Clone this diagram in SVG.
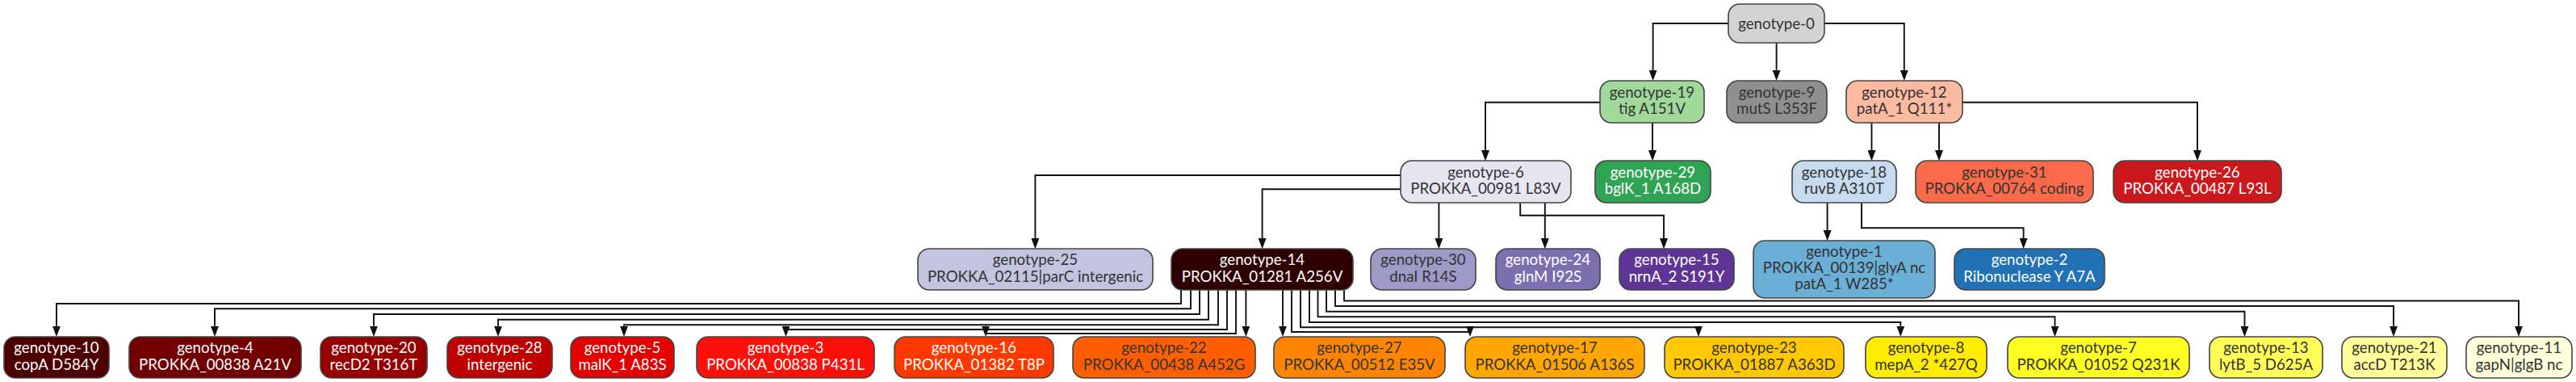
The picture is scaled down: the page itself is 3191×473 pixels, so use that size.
<svg xmlns="http://www.w3.org/2000/svg" width="3191" height="473" viewBox="0 0 3191 473">
<style>
.n rect{stroke:#444;stroke-width:1.6}
text{font-family:Lato,"Noto Sans","Liberation Sans",sans-serif;font-size:18.67px;text-anchor:middle}
.d text{fill:#333}
.w text{fill:#fff}
.e path{fill:none;stroke:#111;stroke-width:1.9}
</style>
<defs>
<marker id="ah" viewBox="0 0 13.3 10" refX="0" refY="5" markerWidth="13.3" markerHeight="10" markerUnits="userSpaceOnUse" orient="90">
<path d="M0,0 L13.3,5 L0,10 z" fill="#111"/>
</marker>
</defs>
<g class="e" marker-end="url(#ah)">
<path d="M2141,29 H2047.6 V86.7" marker-end="url(#ah)"/>
<path d="M2200.6,53 V86.7" marker-end="url(#ah)"/>
<path d="M2260,29 H2358.8 V86.7" marker-end="url(#ah)"/>
<path d="M1982,126.7 H1840 V186" marker-end="url(#ah)"/>
<path d="M2047,152 V186" marker-end="url(#ah)"/>
<path d="M2318.5,152 V186" marker-end="url(#ah)"/>
<path d="M2402,152 V186" marker-end="url(#ah)"/>
<path d="M2431,126.7 H2722 V186" marker-end="url(#ah)"/>
<path d="M1735,217 H1282.4 V295" marker-end="url(#ah)"/>
<path d="M1735,234.3 H1563.6 V295" marker-end="url(#ah)"/>
<path d="M1782.4,250.7 V295" marker-end="url(#ah)"/>
<path d="M1913.8,250.7 V295" marker-end="url(#ah)"/>
<path d="M1883.2,250.7 V266.7 H2061 V295" marker-end="url(#ah)"/>
<path d="M2263.6,250.7 V285" marker-end="url(#ah)"/>
<path d="M2306,250.7 V282.3 H2506.6 V295" marker-end="url(#ah)"/>
<path d="M1463,359.3 V376 H70 V403.7" marker-end="url(#ah)"/>
<path d="M1475,359.3 V382.3 H266 V403.7" marker-end="url(#ah)"/>
<path d="M1486,359.3 V389 H463 V403.7" marker-end="url(#ah)"/>
<path d="M1497,359.3 V395.7 H617 V403.7" marker-end="url(#ah)"/>
<path d="M1509,359.3 V402.3 H773 V403.7" marker-end="url(#ah)"/>
<path d="M1520,359.3 V408 H973.5 V403.7" marker-end="url(#ah)"/>
<path d="M1531,359.3 V413 H1221 V403.7" marker-end="url(#ah)"/>
<path d="M1543.4,359.3 V403.7" marker-end="url(#ah)"/>
<path d="M1589,359.3 V403.7" marker-end="url(#ah)"/>
<path d="M1600,359.3 V411 H1821 V403.7" marker-end="url(#ah)"/>
<path d="M1611,359.3 V405.3 H2104 V403.7" marker-end="url(#ah)"/>
<path d="M1622,359.3 V399 H2354.3 V403.7" marker-end="url(#ah)"/>
<path d="M1632.5,359.3 V392.3 H2545.5 V403.7" marker-end="url(#ah)"/>
<path d="M1643,359.3 V385.7 H2780.5 V403.7" marker-end="url(#ah)"/>
<path d="M1654,359.3 V379 H2965 V403.7" marker-end="url(#ah)"/>
<path d="M1665,359.3 V372.5 H3120 V403.7" marker-end="url(#ah)"/>
</g>

<g id="genotype-0" class="n d"><rect x="2141" y="5" width="119" height="48" rx="14" fill="#d3d3d3"/><text x="2200.5" y="35.5">genotype-0</text></g>

<g id="genotype-19" class="n d"><rect x="1982" y="100" width="129" height="52" rx="14" fill="#a1d99b"/><text x="2046.5" y="120.5">genotype-19</text><text x="2046.5" y="141">tig A151V</text></g>
<g id="genotype-9" class="n d"><rect x="2139" y="100" width="124" height="52" rx="14" fill="#8f8f8f"/><text x="2201" y="120.5">genotype-9</text><text x="2201" y="141">mutS L353F</text></g>
<g id="genotype-12" class="n d"><rect x="2287" y="100" width="144" height="52" rx="14" fill="#fcbba1"/><text x="2359" y="120.5">genotype-12</text><text x="2359" y="141">patA_1 Q111*</text></g>

<g id="genotype-6" class="n d"><rect x="1735" y="199" width="211" height="52" rx="14" fill="#e6e5f1"/><text x="1840.5" y="219.5">genotype-6</text><text x="1840.5" y="240">PROKKA_00981 L83V</text></g>
<g id="genotype-29" class="n w"><rect x="1976" y="199" width="143" height="52" rx="14" fill="#31a354"/><text x="2047.5" y="219.5">genotype-29</text><text x="2047.5" y="240">bglK_1 A168D</text></g>
<g id="genotype-18" class="n d"><rect x="2220" y="199" width="129" height="52" rx="14" fill="#c6dbef"/><text x="2284.5" y="219.5">genotype-18</text><text x="2284.5" y="240">ruvB A310T</text></g>
<g id="genotype-31" class="n d"><rect x="2373" y="199" width="220" height="52" rx="14" fill="#fb6a4a"/><text x="2483" y="219.5">genotype-31</text><text x="2483" y="240">PROKKA_00764 coding</text></g>
<g id="genotype-26" class="n w"><rect x="2618" y="199" width="208" height="52" rx="14" fill="#cb181d"/><text x="2722" y="219.5">genotype-26</text><text x="2722" y="240">PROKKA_00487 L93L</text></g>

<g id="genotype-25" class="n d"><rect x="1137" y="308" width="291" height="51" rx="14" fill="#c3c4df"/><text x="1282.5" y="328.3">genotype-25</text><text x="1282.5" y="348.8">PROKKA_02115|parC intergenic</text></g>
<g id="genotype-14" class="n w"><rect x="1451" y="308" width="225" height="51" rx="14" fill="#2e0000"/><text x="1563.5" y="328.3">genotype-14</text><text x="1563.5" y="348.8">PROKKA_01281 A256V</text></g>
<g id="genotype-30" class="n d"><rect x="1698" y="308" width="130" height="51" rx="14" fill="#9e9ac8"/><text x="1763" y="328.3">genotype-30</text><text x="1763" y="348.8">dnaI R14S</text></g>
<g id="genotype-24" class="n w"><rect x="1853" y="308" width="129" height="51" rx="14" fill="#7b6fb0"/><text x="1917.5" y="328.3">genotype-24</text><text x="1917.5" y="348.8">glnM I92S</text></g>
<g id="genotype-15" class="n w"><rect x="2006" y="308" width="142" height="51" rx="14" fill="#5e3596"/><text x="2077" y="328.3">genotype-15</text><text x="2077" y="348.8">nrnA_2 S191Y</text></g>
<g id="genotype-1" class="n d"><rect x="2172" y="298" width="225" height="71" rx="14" fill="#6baed6"/><text x="2284.5" y="318">genotype-1</text><text x="2284.5" y="338">PROKKA_00139|glyA nc</text><text x="2284.5" y="357.5">patA_1 W285*</text></g>
<g id="genotype-2" class="n w"><rect x="2421" y="308" width="186" height="51" rx="14" fill="#2171b5"/><text x="2514" y="328.3">genotype-2</text><text x="2514" y="348.8">Ribonuclease Y A7A</text></g>

<g id="genotype-10" class="n w"><rect x="5" y="417" width="130" height="51" rx="14" fill="#4e0000"/><text x="70" y="437">genotype-10</text><text x="70" y="457.5">copA D584Y</text></g>
<g id="genotype-4" class="n w"><rect x="160" y="417" width="213" height="51" rx="14" fill="#720000"/><text x="266.5" y="437">genotype-4</text><text x="266.5" y="457.5">PROKKA_00838 A21V</text></g>
<g id="genotype-20" class="n w"><rect x="397" y="417" width="132" height="51" rx="14" fill="#980000"/><text x="463" y="437">genotype-20</text><text x="463" y="457.5">recD2 T316T</text></g>
<g id="genotype-28" class="n w"><rect x="554" y="417" width="130" height="51" rx="14" fill="#be0000"/><text x="619" y="437">genotype-28</text><text x="619" y="457.5">intergenic</text></g>
<g id="genotype-5" class="n w"><rect x="707" y="417" width="128" height="51" rx="14" fill="#e40000"/><text x="771" y="437">genotype-5</text><text x="771" y="457.5">malK_1 A83S</text></g>
<g id="genotype-3" class="n w"><rect x="863" y="417" width="220" height="51" rx="14" fill="#ff0f0a"/><text x="973" y="437">genotype-3</text><text x="973" y="457.5">PROKKA_00838 P431L</text></g>
<g id="genotype-16" class="n w"><rect x="1108" y="417" width="197" height="51" rx="14" fill="#ff3800"/><text x="1206.5" y="437">genotype-16</text><text x="1206.5" y="457.5">PROKKA_01382 T8P</text></g>
<g id="genotype-22" class="n d"><rect x="1329" y="417" width="226" height="51" rx="14" fill="#ff5f00"/><text x="1442" y="437">genotype-22</text><text x="1442" y="457.5">PROKKA_00438 A452G</text></g>
<g id="genotype-27" class="n d"><rect x="1578" y="417" width="212" height="51" rx="14" fill="#ff8500"/><text x="1684" y="437">genotype-27</text><text x="1684" y="457.5">PROKKA_00512 E35V</text></g>
<g id="genotype-17" class="n d"><rect x="1815" y="417" width="222" height="51" rx="14" fill="#ffa600"/><text x="1926" y="437">genotype-17</text><text x="1926" y="457.5">PROKKA_01506 A136S</text></g>
<g id="genotype-23" class="n d"><rect x="2062" y="417" width="222" height="51" rx="14" fill="#ffc800"/><text x="2173" y="437">genotype-23</text><text x="2173" y="457.5">PROKKA_01887 A363D</text></g>
<g id="genotype-8" class="n d"><rect x="2311" y="417" width="150" height="51" rx="14" fill="#ffec00"/><text x="2386" y="437">genotype-8</text><text x="2386" y="457.5">mepA_2 *427Q</text></g>
<g id="genotype-7" class="n d"><rect x="2487" y="417" width="225" height="51" rx="14" fill="#ffff22"/><text x="2599.5" y="437">genotype-7</text><text x="2599.5" y="457.5">PROKKA_01052 Q231K</text></g>
<g id="genotype-13" class="n d"><rect x="2737" y="417" width="140" height="51" rx="14" fill="#ffff58"/><text x="2807" y="437">genotype-13</text><text x="2807" y="457.5">lytB_5 D625A</text></g>
<g id="genotype-21" class="n d"><rect x="2901" y="417" width="130" height="51" rx="14" fill="#ffff99"/><text x="2966" y="437">genotype-21</text><text x="2966" y="457.5">accD T213K</text></g>
<g id="genotype-11" class="n d"><rect x="3055" y="417" width="131" height="51" rx="14" fill="#ffffdb"/><text x="3120.5" y="437">genotype-11</text><text x="3120.5" y="457.5">gapN|glgB nc</text></g>
</svg>
